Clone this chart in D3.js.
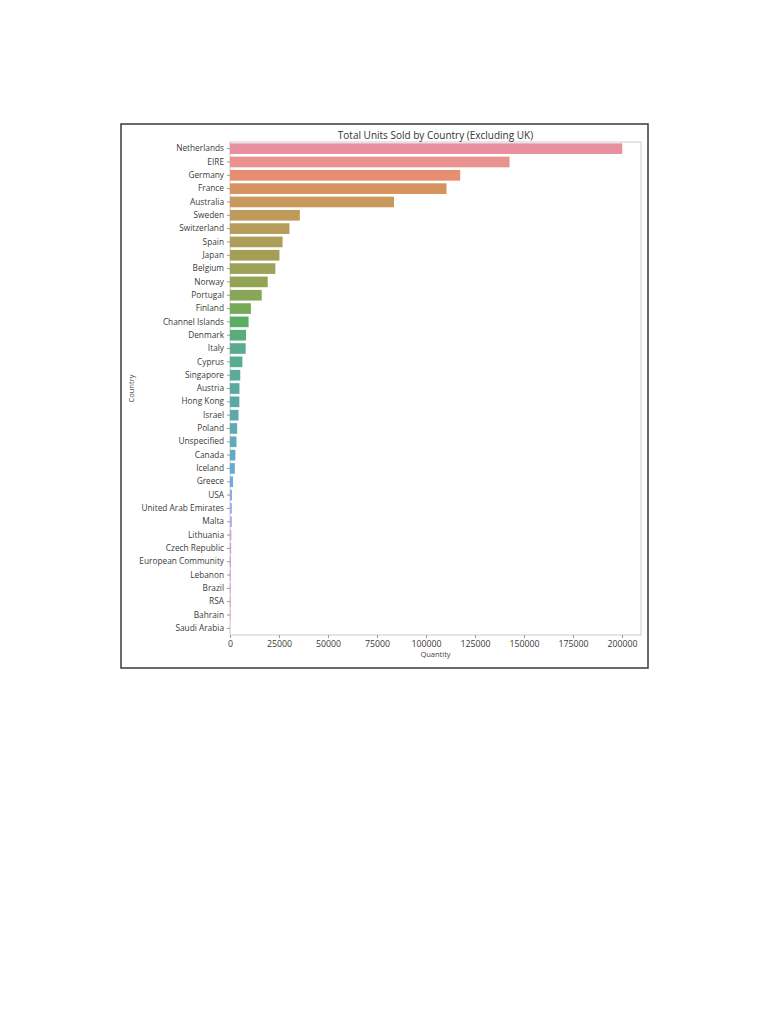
<!DOCTYPE html>
<html><head><meta charset="utf-8">
<script src="https://cdn.jsdelivr.net/npm/d3@7"></script>
<style>
html,body{margin:0;padding:0;background:#fff;}
svg{display:block;font-family:"Open Sans","DejaVu Sans",sans-serif;}
</style></head>
<body>
<svg id="chart" width="768" height="1024"></svg>
<script>
const countries = ["Netherlands","EIRE","Germany","France","Australia","Sweden","Switzerland","Spain","Japan","Belgium","Norway","Portugal","Finland","Channel Islands","Denmark","Italy","Cyprus","Singapore","Austria","Hong Kong","Israel","Poland","Unspecified","Canada","Iceland","Greece","USA","United Arab Emirates","Malta","Lithuania","Czech Republic","European Community","Lebanon","Brazil","RSA","Bahrain","Saudi Arabia"];
const quantities = [200128,142637,117448,110480,83653,35637,30325,26824,25218,23152,19247,16180,10666,9479,8188,7999,6317,5234,4827,4769,4353,3653,3300,2763,2458,1556,1034,982,944,652,592,497,386,356,352,260,75];
const xTicks = [0,25000,50000,75000,100000,125000,150000,175000,200000];
const titleText = "Total Units Sold by Country (Excluding UK)";
const xLabel = "Quantity";
const yLabel = "Country";

// HUSL (seaborn) implementation
const M = [[3.2406,-1.5372,-0.4986],[-0.9689,1.8758,0.0415],[0.0557,-0.2040,1.0570]];
const refU = 0.19784, refV = 0.46834, labE = 0.008856, labK = 903.3;
function maxChroma(L,H){
  const hr = H/360*2*Math.PI, sH=Math.sin(hr), cH=Math.cos(hr);
  const sub1 = Math.pow(L+16,3)/1560896;
  const sub2 = sub1>labE?sub1:L/labK;
  let res = Infinity;
  for(const [m1,m2,m3] of M){
    const top=(0.99915*m1+1.05122*m2+1.14460*m3)*sub2;
    const rb=0.86330*m3-0.17266*m2, lb=0.12949*m3-0.38848*m1;
    const bottom=(rb*sH+lb*cH)*sub2;
    for(const t of [0,1]){
      const C=L*(top-1.05122*t)/(bottom+0.17266*sH*t);
      if(C>0&&C<res) res=C;
    }
  }
  return res;
}
function huslToRgb(H,S,L){
  const C = maxChroma(L,H)/100*S;
  const hr=H/360*2*Math.PI;
  const U=Math.cos(hr)*C, V=Math.sin(hr)*C;
  const t=(L+16)/116;
  const varY = Math.pow(t,3)>labE?Math.pow(t,3):(116*t-16)/labK;
  const varU=U/(13*L)+refU, varV=V/(13*L)+refV;
  const Y=varY;
  const X=0-(9*Y*varU)/((varU-4)*varV-varU*varV);
  const Z=(9*Y-15*varV*Y-varV*X)/(3*varV);
  return M.map(r=>{
    let c=r[0]*X+r[1]*Y+r[2]*Z;
    c = c<=0.0031308?12.92*c:1.055*Math.pow(c,1/2.4)-0.055;
    return Math.max(0,Math.min(1,c));
  });
}
function huslPalette(n,h=0.01,s=0.9,l=0.65){
  const out=[];
  for(let i=0;i<n;i++){
    let hue=((i/n)+h)%1*359;
    const [r,g,b]=huslToRgb(hue,s*99,l*99);
    const c=d3.hsl(d3.rgb(r*255,g*255,b*255));
    c.s*=0.75;
    // slight wash-out to match the faded reference image
    out.push(d3.interpolateRgb(c.formatHex(),"#ffffff")(0.12));
  }
  return out;
}
const colors = huslPalette(countries.length);

const svg=d3.select("#chart");
const margin={left:230,top:142,right:641,bottom:635};
const x=d3.scaleLinear().domain([0,209700]).range([margin.left,margin.right]);
const y=d3.scaleBand().domain(countries).range([margin.top,margin.bottom]).paddingInner(0.2).paddingOuter(0.1);

// figure border
svg.append("rect").attr("x",121).attr("y",124).attr("width",527).attr("height",544)
  .attr("fill","#fff").attr("stroke","#3a3a3a").attr("stroke-width",1.5);

// plot frame
svg.append("rect").attr("x",margin.left).attr("y",margin.top)
  .attr("width",margin.right-margin.left).attr("height",margin.bottom-margin.top)
  .attr("fill","none").attr("stroke","#cccccc").attr("stroke-width",1);

svg.append("g").selectAll("rect").data(countries).join("rect")
  .attr("x",x(0)).attr("y",d=>y(d))
  .attr("width",(d,i)=>x(quantities[i])-x(0))
  .attr("height",y.bandwidth())
  .attr("fill",(d,i)=>colors[i]);

const yAxis=svg.append("g").attr("transform",`translate(${margin.left},0)`)
  .call(d3.axisLeft(y).tickSize(3).tickPadding(3));
const xAxis=svg.append("g").attr("transform",`translate(0,${margin.bottom})`)
  .call(d3.axisBottom(x).tickValues(xTicks).tickFormat(d3.format("d")).tickSize(3).tickPadding(3));
[yAxis,xAxis].forEach(a=>{
  a.select(".domain").remove();
  a.selectAll(".tick line").attr("stroke","#999");
  a.selectAll(".tick text").attr("fill","#3a3a3a").style("font-family","'Open Sans',sans-serif");
});
yAxis.selectAll(".tick text").style("font-size","8.3px");
xAxis.selectAll(".tick text").style("font-size","8.8px");

svg.append("text").attr("x",(margin.left+margin.right)/2).attr("y",138.5)
  .attr("text-anchor","middle").attr("fill","#333").style("font-size","10px").text(titleText);
svg.append("text").attr("x",(margin.left+margin.right)/2).attr("y",657)
  .attr("text-anchor","middle").attr("fill","#444").style("font-size","7.5px").text(xLabel);
svg.append("text").attr("transform",`translate(134,${(margin.top+margin.bottom)/2}) rotate(-90)`)
  .attr("text-anchor","middle").attr("fill","#444").style("font-size","7.5px").text(yLabel);
</script>
</body></html>
